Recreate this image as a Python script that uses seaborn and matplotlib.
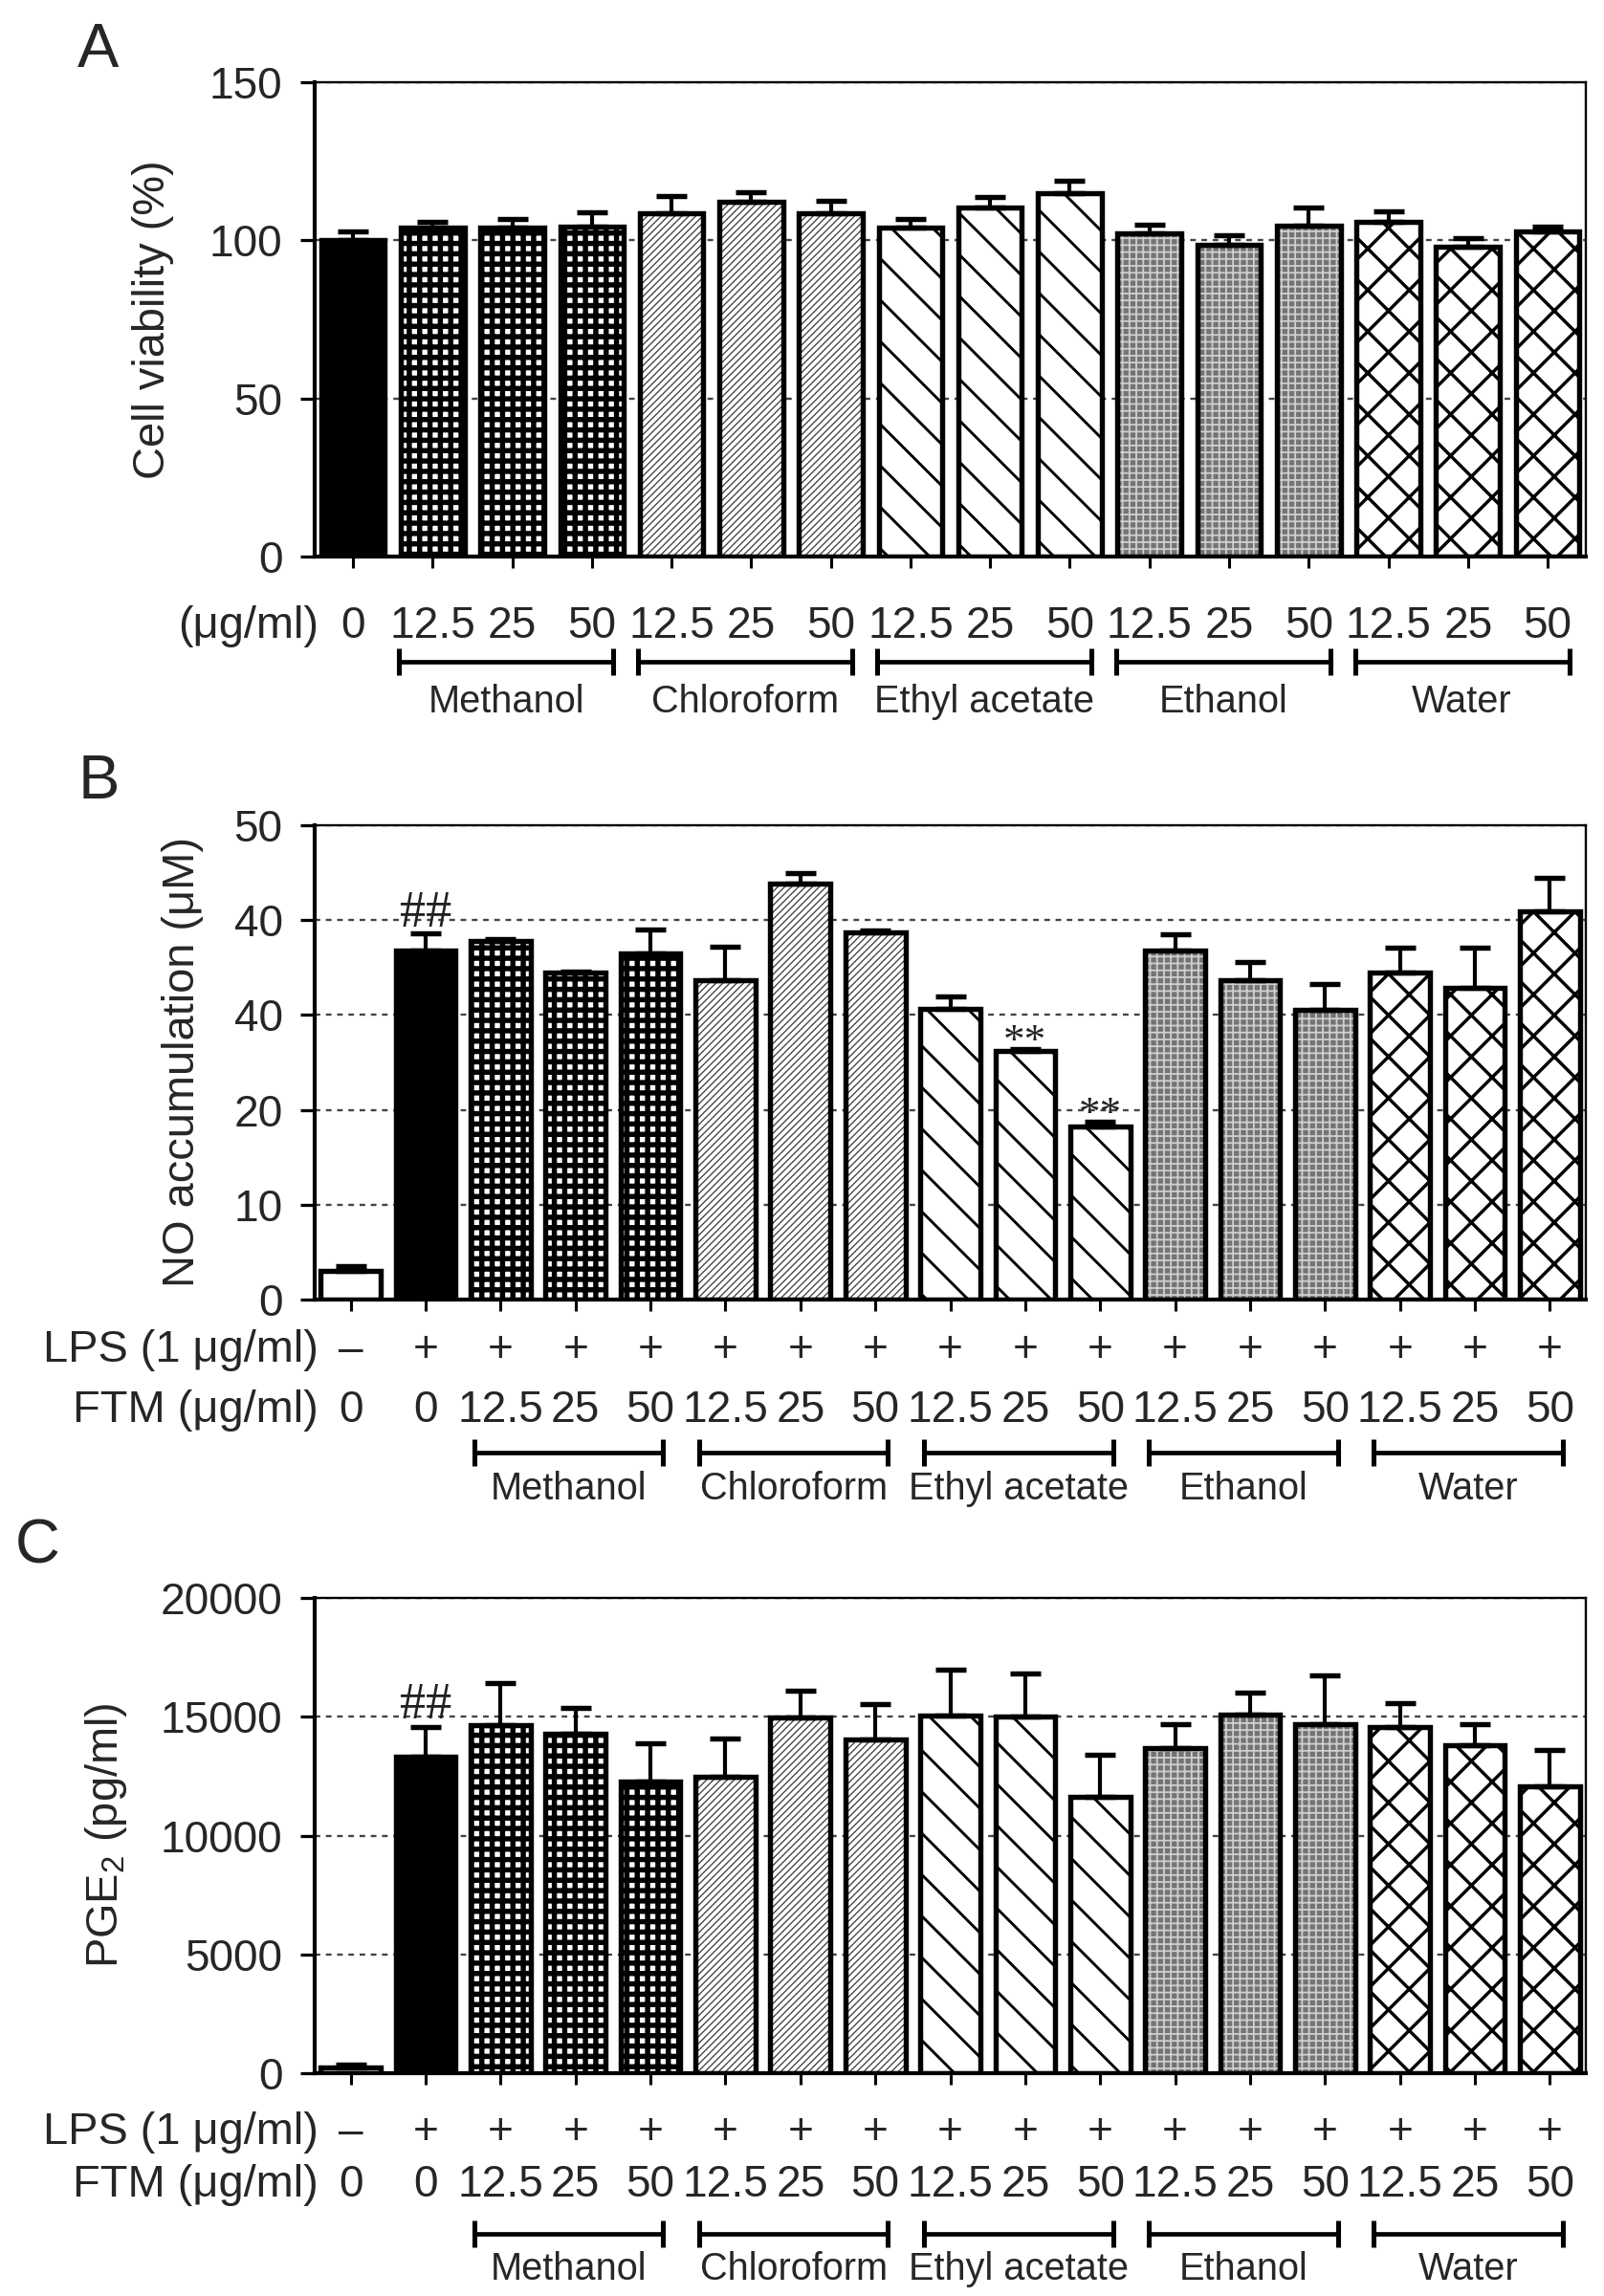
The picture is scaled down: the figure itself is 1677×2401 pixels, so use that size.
import matplotlib.pyplot as plt
import matplotlib.transforms as mtransforms
import numpy as np
import pandas as pd
import seaborn as sns
from matplotlib.patches import Rectangle

# %%
solvents = ["Methanol", "Chloroform", "Ethyl acetate", "Ethanol", "Water"]
solvent_doses = ["12.5", "25", "50"]

# panel A - cell viability
bars_a = ["Control"] + [f"{s} {d}" for s in solvents for d in solvent_doses]
doses_a = ["0"] + solvent_doses * 5
viability = [100.0, 104.1, 104.1, 104.4, 108.5, 112.1, 108.6, 104.1, 110.3,
             114.8, 102.3, 98.6, 104.5, 105.7, 97.9, 102.9]
viability_err = [2.7, 1.8, 2.7, 4.5, 5.5, 3.0, 3.8, 2.7, 3.4,
                 3.9, 2.7, 2.9, 5.8, 3.5, 2.7, 1.5]

# panels B and C - LPS stimulated
bars_bc = ["Control", "LPS"] + [f"{s} {d}" for s in solvents for d in solvent_doses]
lps_marks = ["\u2013"] + ["+"] * 16
doses_bc = ["0", "0"] + solvent_doses * 5

no_level = [3.0, 36.8, 37.8, 34.5, 36.5, 33.7, 43.8, 38.7, 30.6,
            26.2, 18.2, 36.8, 33.7, 30.5, 34.5, 32.9, 40.9]
no_err = [0.5, 1.8, 0.2, 0.1, 2.5, 3.5, 1.2, 0.2, 1.3,
          0.2, 0.5, 1.7, 1.9, 2.8, 2.6, 4.2, 3.5]
no_ticks = [0, 10, 20, 30, 40, 50]
no_tick_labels = ["0", "10", "20", "40", "40", "50"]

pge2 = [250, 13340, 14660, 14300, 12270, 12480, 14960, 14030, 15060,
        15000, 11640, 13680, 15080, 14710, 14580, 13820, 12060]
pge2_err = [100, 1220, 1770, 1080, 1600, 1600, 1150, 1520, 1940,
            1830, 1780, 1030, 930, 2030, 1010, 890, 1530]

kinds_a = ["black"] + [s for s in solvents for _ in solvent_doses]
kinds_bc = ["white", "black"] + [s for s in solvents for _ in solvent_doses]

# %%
STYLES = {
    "black": dict(face="black", hatch=None, hcolor="black", hlw=1.0),
    "white": dict(face="white", hatch=None, hcolor="black", hlw=1.0),
    "Methanol": dict(face="white", hatch="++", hcolor="black", hlw=3.0),
    "Chloroform": dict(face="white", hatch="//////", hcolor="#3a3a3a", hlw=0.7),
    "Ethyl acetate": dict(face="white", hatch="\\", hcolor="black", hlw=1.6),
    "Ethanol": dict(face="#747474", hatch="+++", hcolor="#cfcfcf", hlw=1.0),
    "Water": dict(face="white", hatch="x", hcolor="black", hlw=1.9),
}

sns.set_theme(style="white")
plt.rcParams["font.family"] = ["Liberation Sans", "DejaVu Sans"]
plt.rcParams["mathtext.default"] = "regular"
plt.rcParams["hatch.linewidth"] = 1.5

NUM_SIZE = 25.5
ROW_SIZE = 26
NAME_SIZE = 22

fig = plt.figure(figsize=(1677 / 130, 2401 / 130), dpi=130)


def draw_panel(ax, keys, values, errors, kinds, ymax, ticks, tick_labels, ylabel, label_x):
    df = pd.DataFrame({"bar": keys, "value": values})
    sns.barplot(data=df, x="bar", y="value", order=keys, width=0.8,
                errorbar=None, color="white", ax=ax, zorder=2)
    for patch, kind in zip(list(ax.patches), kinds):
        st = STYLES[kind]
        patch.set_facecolor(st["face"])
        patch.set_edgecolor(st["hcolor"])
        patch.set_linewidth(0)
        if st["hatch"]:
            patch.set_hatch(st["hatch"])
            if hasattr(patch, "set_hatch_linewidth"):
                patch.set_hatch_linewidth(st["hlw"])
        ax.add_patch(Rectangle(patch.get_xy(), patch.get_width(), patch.get_height(),
                               fill=False, edgecolor="black", linewidth=3.0, zorder=3))

    pos = np.arange(len(keys))
    ax.errorbar(pos, values, yerr=[np.zeros(len(values)), errors], fmt="none",
                ecolor="black", elinewidth=2.3, capsize=9, capthick=3.0, zorder=4)

    ax.set_xlim(-0.48, len(keys) - 0.52)
    ax.set_ylim(0, ymax)
    ax.set_yticks(ticks)
    ax.set_yticklabels(tick_labels, fontsize=NUM_SIZE)
    ax.set_xticks(pos)
    ax.set_xticklabels([""] * len(pos))
    ax.set_xlabel("")
    ax.set_ylabel(ylabel, fontsize=26)
    ax.yaxis.set_label_coords(label_x, 0.5)
    ax.yaxis.grid(True, linestyle=(0, (2.5, 2.5)), color="#444444", linewidth=1.3)
    ax.xaxis.grid(False)
    ax.set_axisbelow(True)

    for side in ["left", "bottom"]:
        ax.spines[side].set_linewidth(2.3)
    for side in ["top", "right"]:
        ax.spines[side].set_linewidth(1.3)
    for spine in ax.spines.values():
        spine.set_color("black")
        spine.set_visible(True)
    ax.tick_params(axis="y", direction="out", length=8.5, width=1.8, pad=10,
                   left=True, color="black")
    ax.tick_params(axis="x", direction="out", length=6.5, width=1.7, pad=0,
                   bottom=True, color="black")


def label_row(ax, labels, y, title):
    trans = mtransforms.blended_transform_factory(ax.transData, ax.transAxes)
    for i, lab in enumerate(labels):
        ax.text(i, y, lab, transform=trans, ha="center", va="center_baseline",
                fontsize=NUM_SIZE, clip_on=False)
    ax.text(0.003, y, title, transform=ax.transAxes, ha="right",
            va="center_baseline", fontsize=ROW_SIZE, clip_on=False)


def group_brackets(ax, first, y, name_y, left, right):
    trans = mtransforms.blended_transform_factory(ax.transData, ax.transAxes)
    for g, name in enumerate(solvents):
        lo = first + 3 * g - left
        hi = first + 3 * g + 2 + right
        ax.plot([lo, hi], [y, y], transform=trans, color="black", linewidth=2.6,
                marker="|", markersize=15, markeredgewidth=2.8,
                solid_capstyle="butt", clip_on=False)
        ax.text((lo + hi) / 2, name_y, name, transform=trans, ha="center",
                va="center_baseline", fontsize=NAME_SIZE, clip_on=False)


def mark(ax, i, values, errors, text, offset, size):
    ax.annotate(text, (i, values[i] + errors[i]), xytext=(0, offset),
                textcoords="offset points", ha="center", va="baseline",
                fontsize=size, color="#222222",
                family=["Liberation Serif", "DejaVu Serif"], zorder=5)


# %% panel A
ax_a = fig.add_axes([0.1962, 0.7576, 0.7925, 0.2066])
draw_panel(ax_a, bars_a, viability, viability_err, kinds_a, 150,
           [0, 50, 100, 150], ["0", "50", "100", "150"],
           "Cell viability (%)", -0.111)
label_row(ax_a, doses_a, -0.137, "(\u03bcg/ml)")
group_brackets(ax_a, 1, -0.222, -0.298, 0.42, 0.27)

# %% panel B
ax_b = fig.add_axes([0.1962, 0.4340, 0.7925, 0.2066])
draw_panel(ax_b, bars_bc, no_level, no_err, kinds_bc, 50,
           no_ticks, no_tick_labels, "NO accumulation (\u03bcM)", -0.087)
label_row(ax_b, lps_marks, -0.097, "LPS (1 \u03bcg/ml)")
label_row(ax_b, doses_bc, -0.224, "FTM (\u03bcg/ml)")
group_brackets(ax_b, 2, -0.323, -0.391, 0.35, 0.17)
mark(ax_b, 1, no_level, no_err, "##", 4, 30)
mark(ax_b, 9, no_level, no_err, "**", -2, 25)
mark(ax_b, 10, no_level, no_err, "**", -2, 25)

# %% panel C
ax_c = fig.add_axes([0.1962, 0.0970, 0.7925, 0.2070])
draw_panel(ax_c, bars_bc, pge2, pge2_err, kinds_bc, 20000,
           [0, 5000, 10000, 15000, 20000],
           ["0", "5000", "10000", "15000", "20000"],
           "PGE$_2$ (pg/ml)", -0.146)
label_row(ax_c, lps_marks, -0.115, "LPS (1 \u03bcg/ml)")
label_row(ax_c, doses_bc, -0.226, "FTM (\u03bcg/ml)")
group_brackets(ax_c, 2, -0.338, -0.405, 0.35, 0.17)
mark(ax_c, 1, pge2, pge2_err, "##", 5, 30)

# %% panel letters
fig.text(0.0614, 0.978, "A", fontsize=36, ha="center", va="center")
fig.text(0.0614, 0.6593, "B", fontsize=36, ha="center", va="center")
fig.text(0.0233, 0.3265, "C", fontsize=36, ha="center", va="center")

fig.savefig("out.png", dpi=130)
